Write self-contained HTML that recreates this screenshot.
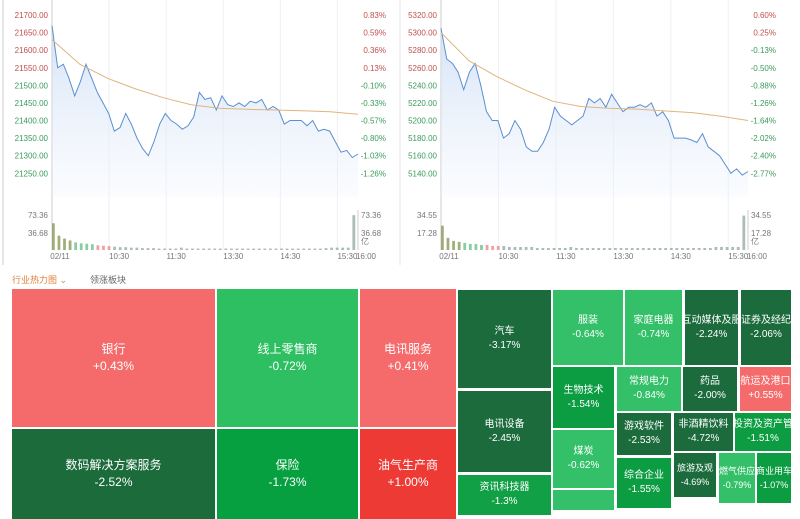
<!DOCTYPE html>
<html><head><meta charset="utf-8">
<style>
body{margin:0;width:800px;height:500px;background:#fff;overflow:hidden;font-family:"Liberation Sans","Noto Sans CJK SC",sans-serif;position:relative}
svg{position:absolute;left:0;top:0}
.cell{position:absolute;color:#fff;text-align:center;display:flex;flex-direction:column;justify-content:center;align-items:center;font-size:10px;line-height:14px;overflow:hidden;white-space:nowrap;box-sizing:border-box}
.big{font-size:12px;line-height:17px}
</style></head><body>
<svg id="chart" width="800" height="290"></svg>
<div style="position:absolute;left:12px;top:273px;font-size:9px;color:#e0823a">行业热力图 ⌄</div>
<div style="position:absolute;left:90px;top:273px;font-size:9px;color:#666">领涨板块</div>
<div id="tm"></div>
<script>
const NS="http://www.w3.org/2000/svg";
const svg=document.getElementById('chart');
const priceL=[21670,21550,21560,21520,21470,21510,21560,21520,21480,21450,21420,21370,21380,21420,21390,21350,21320,21300,21340,21390,21420,21400,21390,21375,21385,21410,21480,21460,21465,21430,21470,21445,21440,21450,21440,21455,21450,21460,21430,21440,21430,21390,21400,21400,21400,21385,21400,21370,21375,21370,21340,21310,21315,21295,21305];
const avgL=[21630,21560,21520,21490,21465,21445,21435,21432,21430,21428,21425,21418];
const priceR=[5305,5270,5265,5255,5235,5255,5265,5240,5210,5200,5200,5180,5185,5200,5190,5170,5165,5165,5175,5190,5215,5205,5200,5195,5200,5205,5225,5220,5225,5215,5230,5220,5210,5215,5215,5218,5215,5220,5205,5210,5200,5180,5180,5180,5178,5175,5185,5170,5165,5160,5150,5140,5145,5138,5142];
const avgR=[5300,5268,5250,5235,5222,5216,5214,5213,5211,5209,5205,5200];
const volL=[56,30,24,20,16,14,13,12,10,9,8,7,6,6,5,5,4,4,4,3,3,3,3,5,3,3,3,3,3,3,3,3,3,3,3,3,3,3,3,3,3,3,3,3,3,3,3,3,3,4,5,5,5,5,73];
const volR=[24,12,9,8,7,6,6,5,5,4,4,4,3,3,3,3,3,2,2,2,2,2,2,3,2,2,2,2,2,2,2,2,2,2,2,2,2,2,2,2,2,2,2,2,2,2,2,2,2,3,3,3,3,3,34];
const timeLabels=['02/11','10:30','11:30','13:30','14:30','15:30','16:00'];
const timeMins=[0,60,120,180,240,300,330];
const leftTicks=['21700.00','21650.00','21600.00','21550.00','21500.00','21450.00','21400.00','21350.00','21300.00','21250.00'];
const leftPct=['0.83%','0.59%','0.36%','0.13%','-0.10%','-0.33%','-0.57%','-0.80%','-1.03%','-1.26%'];
const rightTicks=['5320.00','5300.00','5280.00','5260.00','5240.00','5220.00','5200.00','5180.00','5160.00','5140.00'];
const rightPct=['0.60%','0.25%','-0.13%','-0.50%','-0.88%','-1.26%','-1.64%','-2.02%','-2.40%','-2.77%'];
function el(t,a,p){const e=document.createElementNS(NS,t);for(const k in a)e.setAttribute(k,a[k]);(p||svg).appendChild(e);return e;}
function txt(x,y,s,fill,anchor){const t=el('text',{x:x,y:y,fill:fill,'font-size':8,'text-anchor':anchor||'start','font-family':'Liberation Sans, sans-serif'});t.textContent=s;return t;}
function panel(cfg){
  const x0=cfg.x0,x1=cfg.x1,yT=15,yB=173.3;
  const xm=m=>x0+m*(cfg.tx16-x0)/330;
  const y=v=>yT+(cfg.max-v)*(yB-yT)/(cfg.max-cfg.min);
  const g=el('g',{});
  
  
  timeMins.forEach((m,i)=>{
    const X=xm(m);
    if(i<6){el('line',{x1:X,x2:X,y1:0,y2:250,stroke:'#eef0f3'},g);}
    const t=txt(i==0?X+8:(i==6?X:X+10),259,timeLabels[i],'#777','middle');g.appendChild(t);
    
  });
  el('line',{x1:x0,x2:x0,y1:0,y2:250,stroke:'#ccc'},g);
  el('line',{x1:x1,x2:x1,y1:210,y2:250,stroke:'#ccc'},g);
  cfg.ticks.forEach((s,i)=>{
    const v=parseFloat(s);const Y=y(v)+3;
    const t=txt(x0-4,Y,s,i<4?'#c0504d':'#3a9a5b','end');g.appendChild(t);
    
    const p=txt(x1+28,Y,cfg.pct[i],cfg.pct[i][0]=='-'?'#3a9a5b':'#c0504d','end');g.appendChild(p);
    
  });
  const n=cfg.price.length;const px=i=>x0+i*(x1-x0)/(n-1);
  let d='';cfg.price.forEach((v,i)=>{d+=(i?'L':'M')+px(i).toFixed(1)+','+y(v).toFixed(1);});
  const area=el('path',{d:d+'L'+x1+',197L'+x0+',197Z',fill:'url(#gr)'},g);
  
  const line=el('path',{d:d,fill:'none',stroke:'#5b8fcf','stroke-width':1},g);
  
  const na=cfg.avg.length;let da='';cfg.avg.forEach((v,i)=>{da+=(i?'L':'M')+(x0+i*(x1-x0)/(na-1)).toFixed(1)+','+y(v).toFixed(1);});
  const al=el('path',{d:da,fill:'none',stroke:'#e0b47e','stroke-width':1},g);
  
  const vy=v=>250-v*35/cfg.vmax;
  const bw=(x1-x0)/n;
  cfg.vol.forEach((v,i)=>{
    const c=i<4?'#8a9a5b':(i<8?'#6cc08b':(i<11?'#e88':'#9aa'));
    const r=el('rect',{x:x0+i*bw,y:vy(v),width:Math.max(bw*0.5,1),height:250-vy(v),fill:c,opacity:0.8},g);
    
  });
  [[cfg.vlab[0],218],[cfg.vlab[1],236]].forEach(a=>{
    const t=txt(x0-4,a[1],a[0],'#777','end');g.appendChild(t);
    const t2=txt(x1+3,a[1],a[0],'#777');g.appendChild(t2);
  });
  const u=txt(x1+3,244,'亿','#777');g.appendChild(u);
}
const defs=el('defs',{});const lg=el('linearGradient',{id:'gr',x1:0,y1:0,x2:0,y2:1},defs);
el('stop',{offset:0,'stop-color':'#c9dbf4','stop-opacity':0.8},lg);el('stop',{offset:1,'stop-color':'#eef4fc','stop-opacity':0.3},lg);
el('line',{x1:3,x2:3,y1:0,y2:265,stroke:'#ccc'});
el('line',{x1:400,x2:400,y1:0,y2:265,stroke:'#e5e5e5'});
panel({name:'hsi-chart',x0:52,x1:358,tx16:366,max:21700,min:21250,ticks:leftTicks,pct:leftPct,price:priceL,avg:avgL,vol:volL,vmax:73.36,vlab:['73.36','36.68']});
panel({name:'hstech-chart',x0:441,x1:748,tx16:757,max:5320,min:5140,ticks:rightTicks,pct:rightPct,price:priceR,avg:avgR,vol:volR,vmax:34.55,vlab:['34.55','17.28']});

const cells=[
['银行','+0.43%',12,289,203,138,'#f56b6b',1],
['线上零售商','-0.72%',217,289,141,138,'#2dbf62',1],
['电讯服务','+0.41%',360,289,96,138,'#f56b6b',1],
['数码解决方案服务','-2.52%',12,429,203,90,'#1b6b3b',1],
['保险','-1.73%',217,429,141,90,'#06a040',1],
['油气生产商','+1.00%',360,429,96,90,'#ee3a35',1],
['汽车','-3.17%',458,290,93,98,'#1c6b3d',0],
['电讯设备','-2.45%',458,391,93,81,'#1c6b3d',0],
['资讯科技器','-1.3%',458,475,93,40,'#12a046',0],
['服装','-0.64%',553,290,70,75,'#33c068',0],
['家庭电器','-0.74%',625,290,57,75,'#33c068',0],
['互动媒体及服','-2.24%',685,290,53,75,'#1c6b3d',0],
['证券及经纪','-2.06%',741,290,50,75,'#1c6b3d',0],
['生物技术','-1.54%',553,367,61,61,'#0c9d43',0],
['常规电力','-0.84%',617,367,64,44,'#33c068',0],
['药品','-2.00%',683,367,54,44,'#1c6b3d',0],
['航运及港口','+0.55%',740,367,51,44,'#f56b6b',0],
['煤炭','-0.62%',553,430,61,58,'#33c068',0],
['','',553,490,61,20,'#33c068',0],
['游戏软件','-2.53%',617,413,54,42,'#1c6b3d',0],
['非酒精饮料','-4.72%',674,413,59,38,'#1c6b3d',0],
['投资及资产管','-1.51%',735,413,56,38,'#0c9d43',0],
['综合企业','-1.55%',617,458,54,50,'#0c9d43',0],
['旅游及观','-4.69%',674,453,42,44,'#1c6b3d',0],
['燃气供应','-0.79%',719,453,36,50,'#33c068',0],
['商业用车','-1.07%',757,453,34,50,'#0c9d43',0]
];
const tm=document.getElementById('tm');
cells.forEach(c=>{
  const d=document.createElement('div');
  d.className='cell'+(c[7]?' big':'');
  d.style.cssText+=`left:${c[2]}px;top:${c[3]}px;width:${c[4]}px;height:${c[5]}px;background:${c[6]};`;
  if(!c[7]&&c[4]<45)d.style.fontSize='9px';
  d.innerHTML=c[0]?`<span>${c[0]}</span><span>${c[1]}</span>`:'';
  
  
  tm.appendChild(d);
});
</script>
</body></html>
